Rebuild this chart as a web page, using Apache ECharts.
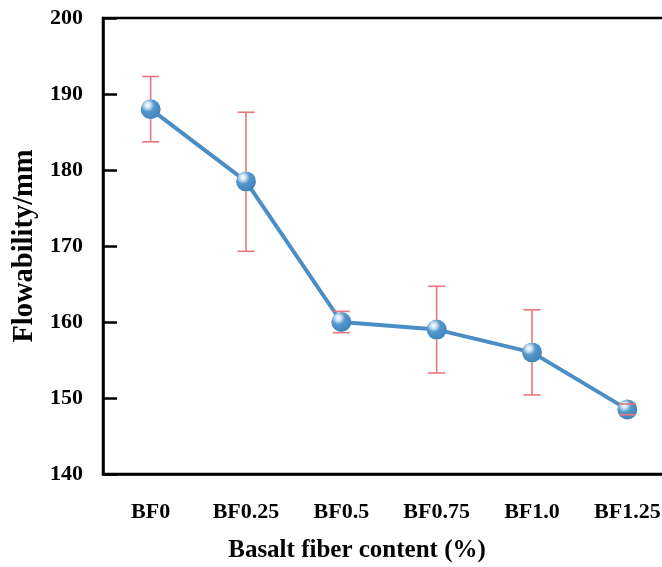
<!DOCTYPE html>
<html><head><meta charset="utf-8">
<script src="https://cdn.jsdelivr.net/npm/echarts@6/dist/echarts.min.js"></script>
<style>html,body{margin:0;padding:0;background:#fff}#c{width:662px;height:567px}</style>
</head><body><div id="c"></div>
<script>
var categories = ['BF0','BF0.25','BF0.5','BF0.75','BF1.0','BF1.25'];
var flowability = [188.0, 178.5, 160.0, 159.0, 156.0, 148.5];
var errUpper = [192.3, 187.6, 161.4, 164.7, 161.6, 149.2];
var errLower = [183.7, 169.3, 158.6, 153.3, 150.4, 147.8];
var yTicks = [140, 150, 160, 170, 180, 190, 200];

var font = '"Liberation Serif", "Times New Roman", serif';
var chart = echarts.init(document.getElementById('c'));
var R = 10;
var errData = categories.map(function(c, i){ return [i, flowability[i], errUpper[i], errLower[i]]; });
chart.setOption({
  animation: false,
  grid: {left: 103, top: 18, width: 572, height: 456, outerBoundsMode: 'none', containLabel: false,
    show: true, borderColor: '#000', borderWidth: 2.5, backgroundColor: 'transparent'},
  xAxis: {
    type: 'category', data: categories, boundaryGap: true,
    axisLine: {lineStyle: {color: '#000', width: 2.5}},
    axisTick: {inside: true, length: 15, alignWithLabel: true, lineStyle: {color: '#000', width: 2.5}},
    axisLabel: {margin: 27, color: '#000', fontFamily: font, fontWeight: 'bold', fontSize: 22},
    name: 'Basalt fiber content (%)', nameLocation: 'middle', nameGap: 64,
    nameTextStyle: {color: '#000', fontFamily: font, fontWeight: 'bold', fontSize: 25, padding: [0, 64, 0, 0]}
  },
  yAxis: {
    type: 'value', min: yTicks[0], max: yTicks[yTicks.length-1], interval: 10,
    axisLine: {show: true, lineStyle: {color: '#000', width: 2.5}},
    axisTick: {show: true, inside: true, length: 14, lineStyle: {color: '#000', width: 2.5}},
    axisLabel: {margin: 20, color: '#000', fontFamily: font, fontWeight: 'bold', fontSize: 22},
    splitLine: {show: false},
    name: 'Flowability/mm', nameLocation: 'middle', nameGap: 64,
    nameTextStyle: {color: '#000', fontFamily: font, fontWeight: 'bold', fontSize: 28.5}
  },
  series: [{
    type: 'line', data: flowability, z: 2,
    lineStyle: {color: '#4a8ec5', width: 4},
    symbol: 'circle', symbolSize: 20,
    itemStyle: {
      color: {type: 'radial', x: 0.35, y: 0.3, r: 0.75, colorStops: [
        {offset: 0, color: '#ffffff'}, {offset: 0.18, color: '#d2e5f4'},
        {offset: 0.45, color: '#5397ca'}, {offset: 1, color: '#3f82ba'}]},
      borderWidth: 0
    }
  }, {
    type: 'custom', z: 5, data: errData,
    renderItem: function(params, api){
      var cx = api.coord([api.value(0), api.value(1)]);
      var top = api.coord([api.value(0), api.value(2)])[1];
      var bot = api.coord([api.value(0), api.value(3)])[1];
      var x = cx[0], cy = cx[1], hw = 8.5;
      var st = {stroke: '#e8767a', lineWidth: 1.6};
      var ch = [
        {type: 'line', shape: {x1: x-hw, y1: top, x2: x+hw, y2: top}, style: st},
        {type: 'line', shape: {x1: x-hw, y1: bot, x2: x+hw, y2: bot}, style: st}
      ];
      if (top < cy - R) ch.push({type: 'line', shape: {x1: x, y1: top, x2: x, y2: cy - R}, style: st});
      if (bot > cy + R) ch.push({type: 'line', shape: {x1: x, y1: cy + R, x2: x, y2: bot}, style: st});
      return {type: 'group', children: ch};
    }
  }]
});
</script></body></html>
